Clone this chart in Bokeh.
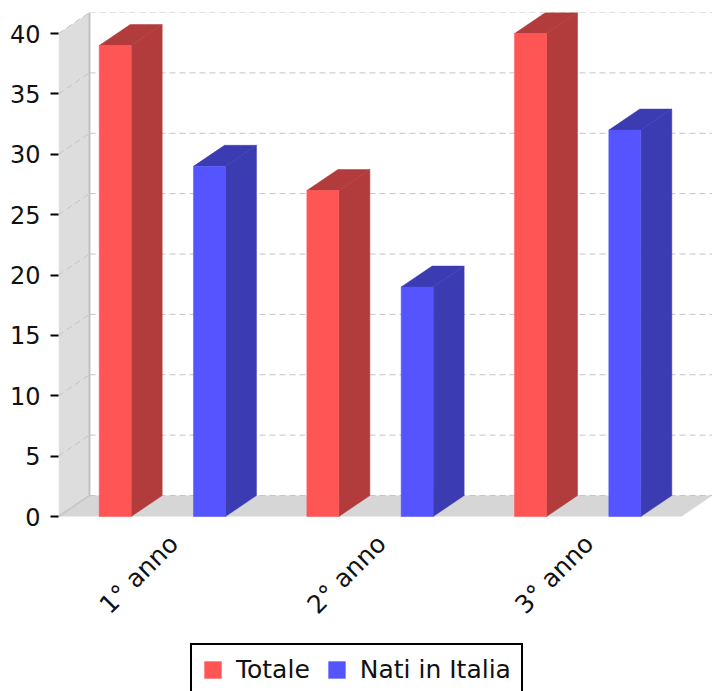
import math
from bokeh.plotting import figure
from bokeh.models import Range1d, FixedTicker, Legend, LegendItem, ColumnDataSource
from bokeh.core.properties import value
from bokeh.embed import file_html
from bokeh.resources import INLINE

# ---- data ----
categories = ["1° anno", "2° anno", "3° anno"]
series_names = ["Totale", "Nati in Italia"]
totale = [39, 27, 40]
nati_in_italia = [29, 19, 32]
y_ticks = [0, 5, 10, 15, 20, 25, 30, 35, 40]

# ---- layout / style constants ----
PX_PER_CAT = 207.67
PX_PER_UNIT = 12.075
FRAME_W = 654
FRAME_H = 679
PLOT_H = 504                  # height of the 3D plot box in px
DX = 31 / PX_PER_CAT          # 3D depth, x (category units)
DY = 21 / PX_PER_UNIT         # 3D depth, y (value units)
BAR_W = 32 / PX_PER_CAT
OFFSETS = [-0.227, 0.227]
LABEL_SHIFT = DX / 2 - 4 / PX_PER_CAT
X_MAX = FRAME_W / PX_PER_CAT
Y_MAX = PLOT_H / PX_PER_UNIT
Y_MIN = -(FRAME_H - PLOT_H) / PX_PER_UNIT
FRONT = ["#FF5555", "#5555FF"]
DARK = ["#B23B3B", "#3B3BB2"]
FONT = "DejaVu Sans"
n = len(categories)

p = figure(width=712, height=691, output_backend="svg", toolbar_location=None,
           x_range=Range1d(0, X_MAX), y_range=Range1d(Y_MIN, Y_MAX),
           min_border_left=58, min_border_right=0, min_border_top=12,
           min_border_bottom=0)
p.outline_line_color = None
p.grid.visible = False
p.background_fill_color = "white"
p.xaxis.visible = False

# walls
p.patch([0, 0, DX, DX], [0, Y_MAX - DY, Y_MAX, DY], fill_color="#DDDDDD", line_color=None)
p.patch([0, n, n + DX, DX], [0, 0, DY, DY], fill_color="#D6D6D6", line_color=None)

# gridlines on back wall and left wall
p.segment(x0=[DX] * len(y_ticks), y0=[v + DY for v in y_ticks],
          x1=[X_MAX] * len(y_ticks), y1=[v + DY for v in y_ticks],
          line_color="#C4C4C4", line_width=1, line_dash="6 4")
wt = [v for v in y_ticks if v > 0]
p.segment(x0=[0] * len(wt), y0=wt, x1=[DX] * len(wt), y1=[v + DY for v in wt],
          line_color="#C4C4C4", line_width=1, line_dash="6 4")
# wall edges
p.line([DX, DX], [DY, Y_MAX], line_color="#C2C2C2", line_width=2)
p.line([0, DX], [0, DY], line_color="#C8C8C8", line_width=2)

# bars
front_renderers = []
for s, vals in enumerate([totale, nati_in_italia]):
    lefts = [i + 0.5 + OFFSETS[s] - BAR_W / 2 for i in range(n)]
    rights = [l + BAR_W for l in lefts]
    side_xs = [[r, r + DX, r + DX, r] for r in rights]
    side_ys = [[0, DY, v + DY, v] for v in vals]
    top_xs = [[l, l + DX, r + DX, r] for l, r in zip(lefts, rights)]
    top_ys = [[v, v + DY, v + DY, v] for v in vals]
    p.patches(side_xs, side_ys, fill_color=DARK[s], line_color=DARK[s], line_width=0.5)
    p.patches(top_xs, top_ys, fill_color=DARK[s], line_color=DARK[s], line_width=0.5)
    src = ColumnDataSource(dict(left=lefts, right=rights, bottom=[0] * n, top=vals))
    r = p.quad(left="left", right="right", bottom="bottom", top="top", source=src,
               fill_color=FRONT[s], line_color=FRONT[s], line_width=0.5)
    front_renderers.append(r)

# y axis
p.yaxis.ticker = FixedTicker(ticks=y_ticks)
p.yaxis.axis_line_color = None
p.yaxis.major_tick_out = 8
p.yaxis.major_tick_in = 0
p.yaxis.major_tick_line_width = 2
p.yaxis.major_tick_line_color = "black"
p.yaxis.minor_tick_line_color = None
p.yaxis.major_label_standoff = 10
p.yaxis.major_label_text_font = FONT
p.yaxis.major_label_text_font_size = "24px"
p.yaxis.major_label_text_color = "#111111"

# category labels (rotated 45°)
xt = [i + 0.5 + LABEL_SHIFT for i in range(n)]
p.text(x=xt, y=[0] * n, text=categories, angle=math.pi / 4, y_offset=23,
       text_align="right", text_baseline="middle",
       text_font=value(FONT), text_font_size="25px", text_color="#111111")

legend = Legend(items=[LegendItem(label=nm, renderers=[r]) for nm, r in zip(series_names, front_renderers)],
                orientation="horizontal", location=(132, -5))
legend.border_line_color = "black"
legend.border_line_width = 2
legend.border_line_alpha = 1
legend.glyph_width = 21
legend.glyph_height = 21
legend.label_height = 21
legend.label_text_font = FONT
legend.label_text_font_size = "25px"
legend.label_text_color = "#111111"
legend.label_standoff = 13
legend.spacing = 16
legend.padding = 10
legend.margin = 0
legend.background_fill_color = "white"
legend.background_fill_alpha = 1
p.add_layout(legend)

open("out.html", "w").write(file_html(p, INLINE))
